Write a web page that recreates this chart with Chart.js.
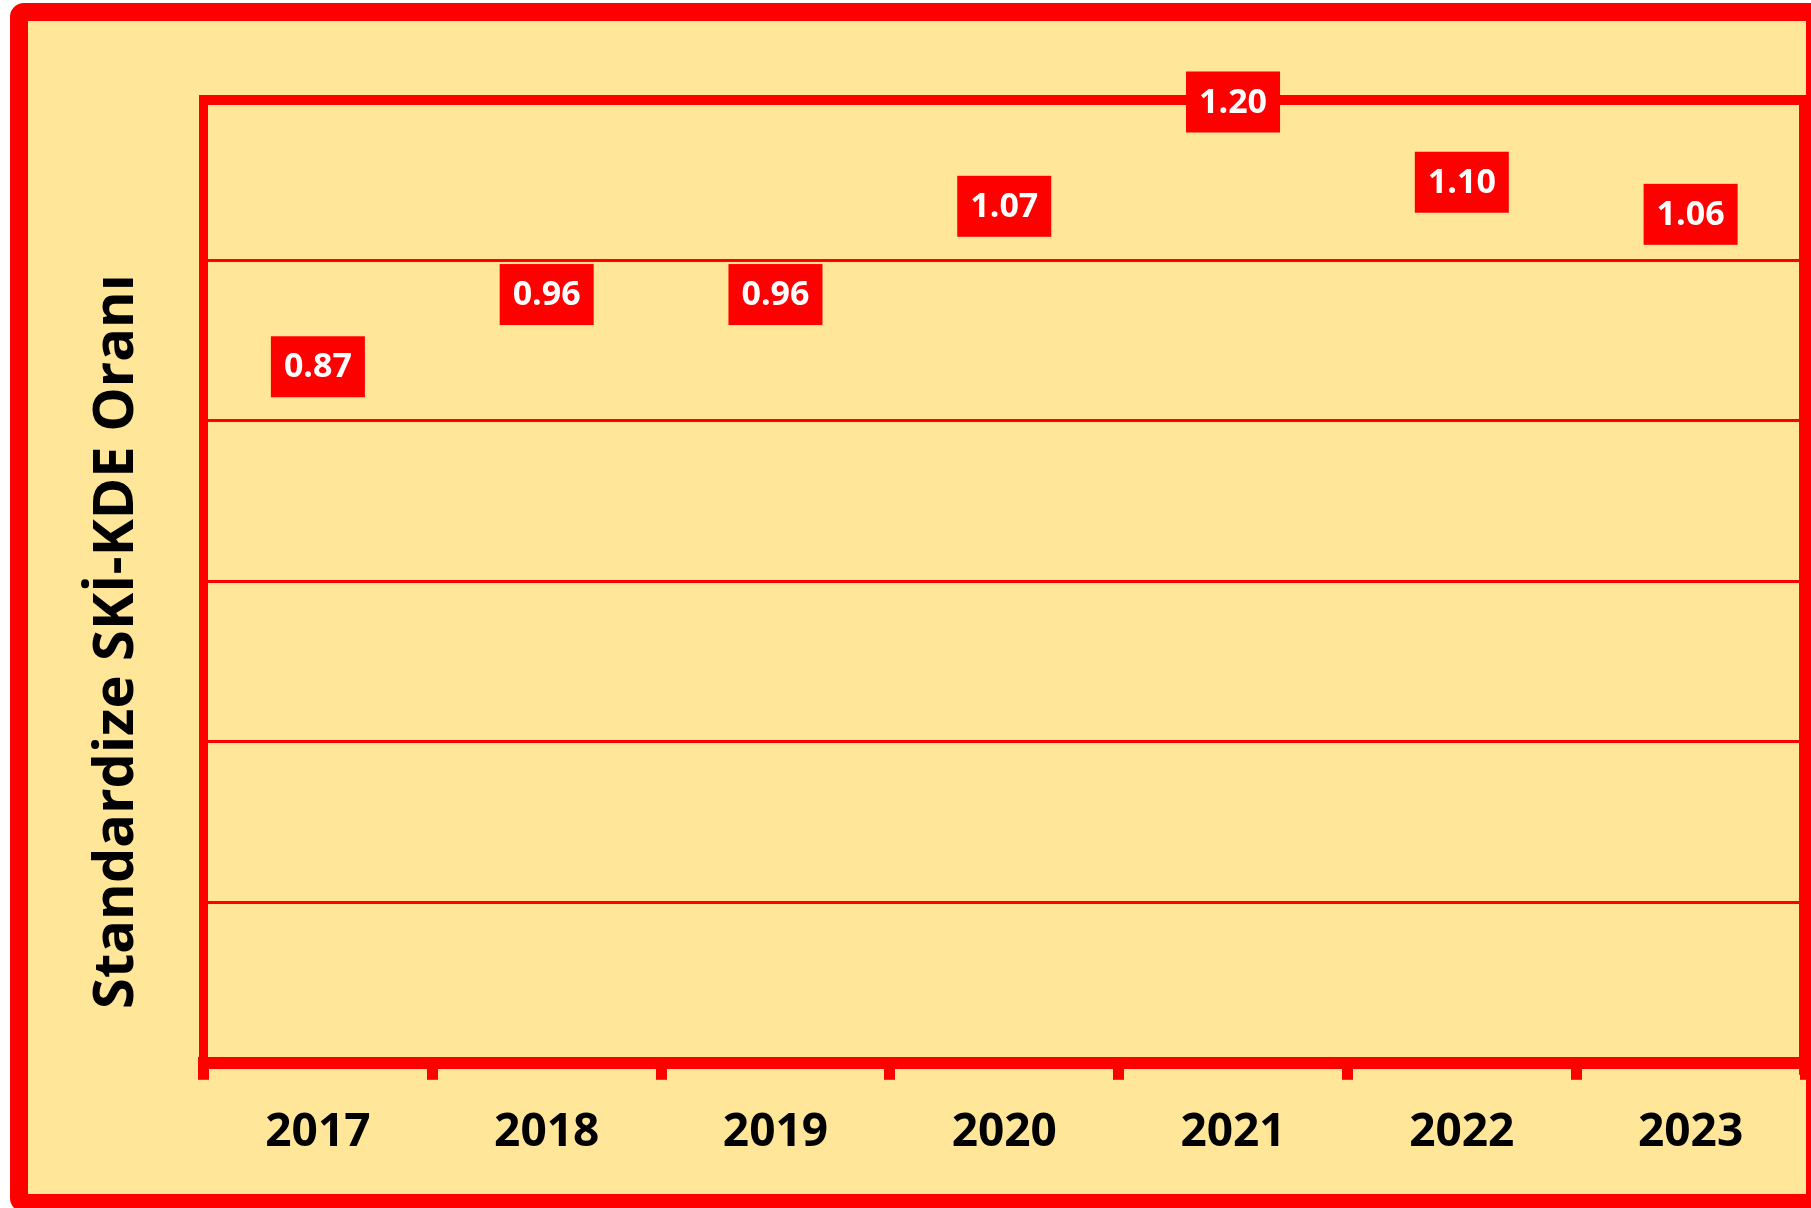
<!DOCTYPE html>
<html>
<head>
<meta charset="utf-8">
<script src="https://cdn.jsdelivr.net/npm/chart.js@4.4.1/dist/chart.umd.min.js"></script>
<style>
  html, body { margin: 0; padding: 0; background: #ffffff; overflow: hidden; }
  #frame {
    position: absolute; left: 10px; top: 3px;
    width: 1814px; height: 1209px; box-sizing: border-box;
    border: 18px solid #ff0000; border-radius: 14px;
    background: #ffe699;
  }
  #oran-chart { position: absolute; left: 0; top: 0; }
</style>
</head>
<body>
<div id="frame"></div>
<canvas id="oran-chart" width="1811" height="1208"></canvas>
<script>
console.log("connected")

const years = ['2017', '2018', '2019', '2020', '2021', '2022', '2023'];
const oranValues = [0.87, 0.96, 0.96, 1.07, 1.20, 1.10, 1.06];
const yMin = 0;
const yMax = 1.2;
const yStep = 0.2;
const yTitle = 'Standardize SKİ-KDE Oranı';

const red = '#ff0000';

// top and right edge of the plot area (left/bottom come from the axes)
const frameLines = {
    id: 'frameLines',
    beforeDatasetsDraw(chart) {
        const {ctx, chartArea} = chart;
        ctx.save();
        ctx.fillStyle = red;
        ctx.fillRect(chartArea.left - 4.5, chartArea.top - 5, chartArea.right - chartArea.left + 10, 10);
        ctx.fillRect(chartArea.right - 6, chartArea.top - 5, 12, chartArea.bottom - chartArea.top + 17);
        ctx.restore();
    }
};

// red boxes with the values, centred on each point
const valueBoxes = {
    id: 'valueBoxes',
    afterDatasetsDraw(chart) {
        const ctx = chart.ctx;
        const meta = chart.getDatasetMeta(0);
        ctx.save();
        ctx.font = 'bold 34px "Open Sans"';
        ctx.textAlign = 'center';
        ctx.textBaseline = 'middle';
        meta.data.forEach((pt, i) => {
            const txt = oranValues[i].toFixed(2);
            const w = ctx.measureText(txt).width + 26;
            const h = 61;
            const cy = pt.y + 2;
            ctx.fillStyle = red;
            ctx.fillRect(pt.x - w / 2, cy - h / 2, w, h);
            ctx.fillStyle = '#ffffff';
            ctx.fillText(txt, pt.x, cy + 1);
        });
        ctx.restore();
    }
};

const sideTitle = {
    id: 'sideTitle',
    afterDraw(chart) {
        const ctx = chart.ctx;
        ctx.save();
        ctx.translate(133, 641.5);
        ctx.rotate(-Math.PI / 2);
        ctx.font = 'bold 56px "Open Sans"';
        ctx.fillStyle = '#000000';
        ctx.textAlign = 'center';
        ctx.textBaseline = 'alphabetic';
        ctx.fillText(yTitle, 0, 0);
        ctx.restore();
    }
};

let ctx = document.getElementById('oran-chart').getContext('2d');
let chart = new Chart(ctx, {
    type: 'line',
    data: {
        labels: years,
        datasets: [{
            label: yTitle,
            data: oranValues,
            showLine: false,
            pointRadius: 0,
            pointHoverRadius: 0,
            borderColor: red,
            backgroundColor: red
        }]
    },
    options: {
        responsive: false,
        devicePixelRatio: 1,
        animation: false,
        layout: {
            padding: {left: 203.5, right: 6, top: 100, bottom: 23}
        },
        plugins: {
            legend: {display: false},
            tooltip: {enabled: false},
            title: {display: false}
        },
        scales: {
            x: {
                offset: true,
                grid: {
                    offset: true,
                    drawOnChartArea: false,
                    drawTicks: true,
                    tickLength: 17,
                    tickWidth: 11,
                    tickColor: red,
                    color: red
                },
                border: {display: true, color: red, width: 12},
                ticks: {
                    color: '#000000',
                    padding: 25,
                    maxRotation: 0,
                    font: {family: 'Open Sans', size: 46, weight: 'bold'}
                }
            },
            y: {
                min: yMin,
                max: yMax,
                grid: {
                    color: red,
                    lineWidth: 3,
                    drawTicks: false
                },
                border: {display: true, color: red, width: 9},
                ticks: {display: false, stepSize: yStep}
            }
        }
    },
    plugins: [frameLines, valueBoxes, sideTitle]
});
</script>
</body>
</html>
